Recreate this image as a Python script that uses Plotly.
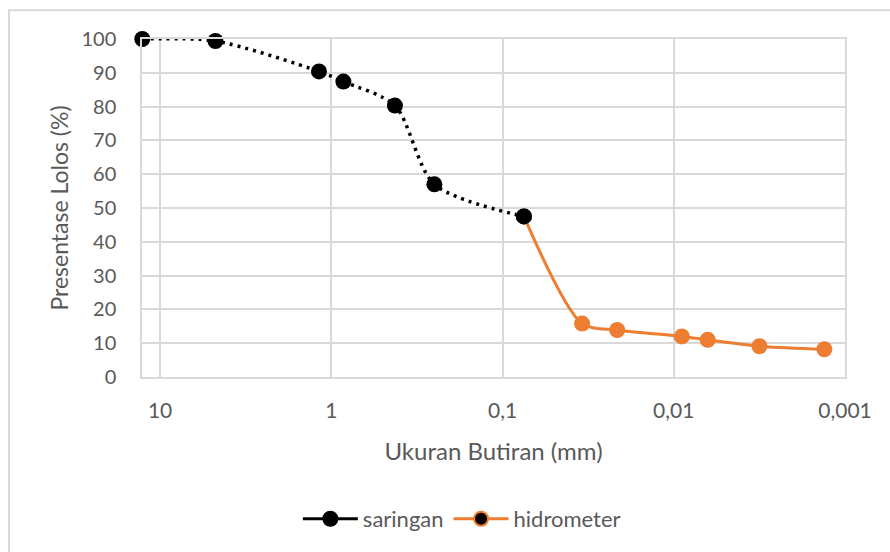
import numpy as np
import plotly.graph_objects as go

# Data
saringan_x = [12.7, 4.75, 1.18, 0.85, 0.425, 0.25, 0.075]
saringan_y = [100, 99.4, 90.4, 87.4, 80.3, 57.0, 47.5]

hidro_x = [0.075, 0.0343, 0.0214, 0.00897, 0.00634, 0.00316, 0.00132]
hidro_y = [47.5, 15.8, 13.9, 12.0, 11.0, 9.1, 8.2]

x_tickvals = [10, 1, 0.1, 0.01, 0.001]
x_ticktext = ["10", "1", "0,1", "0,01", "0,001"]
y_tickvals = list(range(0, 101, 10))

ORANGE = "#ED7D31"
GRAY = "#595959"
FONT = "Lato, 'Open Sans', sans-serif"

fig = go.Figure()
fig.add_trace(go.Scatter(
    x=saringan_x, y=saringan_y, name="saringan", mode="lines+markers",
    line=dict(color="black", width=3.5, dash="3px,5px", shape="spline", smoothing=0.8),
    marker=dict(color="black", size=16),
    cliponaxis=False, showlegend=False,
))
fig.add_trace(go.Scatter(
    x=hidro_x[1:], y=hidro_y[1:], name="hidrometer", mode="markers",
    marker=dict(color=ORANGE, size=16), cliponaxis=False, showlegend=False,
))
fig.add_trace(go.Scatter(
    x=hidro_x, y=hidro_y, name="hidrometer", mode="lines",
    line=dict(color=ORANGE, width=3, shape="spline", smoothing=0.8),
    cliponaxis=False, showlegend=False,
))
fig.add_trace(go.Scatter(
    x=hidro_x[:1], y=hidro_y[:1], name="hidrometer", mode="markers",
    marker=dict(color="black", size=16), cliponaxis=False, showlegend=False,
))
# legend entries
fig.add_trace(go.Scatter(
    x=[None], y=[None], name="saringan", mode="lines+markers",
    line=dict(color="black", width=3), marker=dict(color="black", size=16),
))
fig.add_trace(go.Scatter(
    x=[None], y=[None], name="hidrometer", mode="lines+markers",
    line=dict(color=ORANGE, width=3),
    marker=dict(color="black", size=14, line=dict(color=ORANGE, width=2)),
))

fig.update_layout(
    width=890, height=552,
    margin=dict(l=142, r=45, t=39, b=173),
    paper_bgcolor="white", plot_bgcolor="white",
    font=dict(family=FONT, color=GRAY, size=20),
    showlegend=True,
    legend=dict(orientation="h", x=0.455, xanchor="center", y=-0.42, yanchor="middle",
                font=dict(size=22, color=GRAY, family=FONT), itemwidth=55,
                tracegroupgap=0, itemsizing="trace"),
    xaxis=dict(
        type="log", range=[np.log10(12.75), -3],
        tickvals=x_tickvals, ticktext=x_ticktext,
        showgrid=True, gridcolor="#d9d9d9", gridwidth=1.5,
        showline=True, linecolor="#d9d9d9", linewidth=1.5, mirror=True,
        ticks="", tickfont=dict(size=21, color=GRAY), ticklabelstandoff=14,
        title=dict(text="Ukuran Butiran (mm)", font=dict(size=24, color=GRAY), standoff=22),
        zeroline=False,
    ),
    yaxis=dict(
        range=[0, 100], tickvals=y_tickvals,
        showgrid=True, gridcolor="#d9d9d9", gridwidth=1.5,
        showline=True, linecolor="#d9d9d9", linewidth=1.5, mirror=True,
        ticks="", tickfont=dict(size=20, color=GRAY), ticklabelstandoff=20,
        title=dict(text="Presentase Lolos (%)", font=dict(size=23, color=GRAY), standoff=6),
        zeroline=False,
    ),
)

fig.add_shape(type="rect", xref="paper", yref="paper",
              x0=(9 - 142) / 703, x1=1.2, y0=-0.7, y1=1 + (39 - 10) / 340,
              line=dict(color="#d9d9d9", width=2), layer="below")

fig.write_html("out.html")
